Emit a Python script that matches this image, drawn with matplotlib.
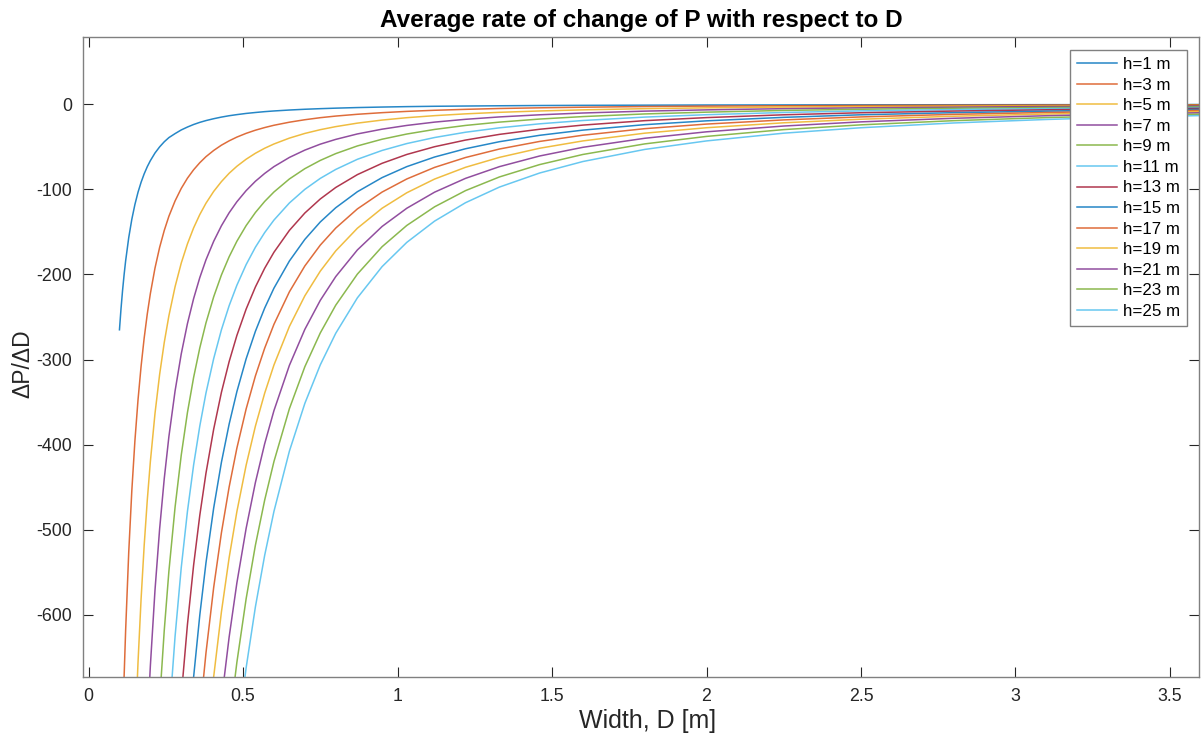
import numpy as np
import matplotlib.pyplot as plt
from matplotlib.ticker import FuncFormatter

plt.rcParams['font.family'] = ['Liberation Sans', 'DejaVu Sans']
plt.rcParams['axes.unicode_minus'] = False

D = [0.100, 0.105, 0.110, 0.115, 0.120, 0.130, 0.140, 0.150, 0.160, 0.170,
     0.180, 0.190, 0.200, 0.215, 0.230, 0.245, 0.260, 0.280, 0.300, 0.320,
     0.340, 0.360, 0.380, 0.405, 0.430, 0.455, 0.480, 0.510, 0.540, 0.570,
     0.600, 0.650, 0.700, 0.750, 0.800, 0.870, 0.950, 1.030, 1.120, 1.220,
     1.330, 1.460, 1.600, 1.800, 2.000, 2.250, 2.500, 2.800, 3.100, 3.350,
     3.600]

heights = [1, 3, 5, 7, 9, 11, 13, 15, 17, 19, 21, 23, 25]

# each list lines up with the last len(list) widths of D
h1 = [-265.0, -240.4, -219.0, -200.4, -184.0, -156.8, -135.2, -117.8, -103.5, -91.7,
      -81.8, -73.4, -66.3, -57.3, -50.1, -44.1, -39.2, -34.5, -30.2, -26.8,
      -23.8, -21.3, -19.2, -17.0, -15.1, -13.5, -12.2, -10.8, -9.7, -8.7,
      -7.9, -6.8, -5.9, -5.2, -4.6, -3.9, -3.3, -2.8, -2.4, -2.1,
      -1.8, -1.5, -1.3, -1.1, -0.9, -0.8, -0.7, -0.6, -0.5, -0.5,
      -0.4]
h3 = [-735.5, -672.9, -618.0, -526.6, -454.1, -395.5, -347.6, -307.9, -274.7, -246.5,
      -222.5, -192.5, -168.2, -148.3, -131.6, -113.6, -98.9, -86.9, -77.0, -68.7,
      -61.6, -54.3, -48.1, -43.0, -38.6, -34.2, -30.5, -27.4, -24.7, -21.1,
      -18.2, -15.8, -13.9, -11.8, -9.9, -8.4, -7.1, -6.0, -5.0, -4.2,
      -3.5, -2.7, -2.2, -1.8, -1.4, -1.1, -0.9, -0.8, -0.7]
h5 = [-746.6, -656.2, -581.3, -518.4, -465.4, -420.0, -363.4, -317.5, -279.9, -248.5,
      -214.4, -186.6, -164.1, -145.3, -129.6, -116.3, -102.4, -90.9, -81.1, -72.9,
      -64.6, -57.6, -51.7, -46.7, -39.8, -34.3, -29.9, -26.3, -22.2, -18.6,
      -15.8, -13.4, -11.3, -9.5, -7.9, -6.6, -5.2, -4.2, -3.3, -2.7,
      -2.1, -1.7, -1.5, -1.3]
h7 = [-731.3, -660.0, -571.0, -499.0, -439.8, -390.5, -336.9, -293.3, -257.8, -228.4,
      -203.7, -182.8, -161.0, -142.8, -127.5, -114.6, -101.5, -90.5, -81.3, -73.3,
      -62.5, -53.9, -46.9, -41.3, -34.9, -29.3, -24.9, -21.0, -17.7, -14.9,
      -12.4, -10.3, -8.1, -6.6, -5.2, -4.2, -3.4, -2.7, -2.4, -2.0]
h9 = [-701.2, -618.1, -548.7, -473.4, -412.2, -362.3, -321.0, -286.3, -256.9, -226.2,
      -200.6, -179.2, -161.0, -142.6, -127.2, -114.2, -103.1, -87.8, -75.7, -66.0,
      -58.0, -49.0, -41.1, -35.0, -29.6, -24.9, -21.0, -17.4, -14.5, -11.4,
      -9.3, -7.3, -5.9, -4.7, -3.9, -3.3, -2.9]
h11 = [-724.7, -625.2, -544.4, -478.5, -423.9, -378.1, -339.3, -298.8, -265.0, -236.7,
       -212.7, -188.4, -168.0, -150.8, -136.1, -116.0, -100.0, -87.1, -76.6, -64.7,
       -54.3, -46.2, -39.1, -32.9, -27.7, -23.0, -19.1, -15.1, -12.3, -9.7,
       -7.8, -6.3, -5.1, -4.4, -3.8]
h13 = [-695.5, -611.4, -541.6, -483.0, -433.5, -381.7, -338.5, -302.4, -271.7, -240.7,
       -214.7, -192.7, -173.9, -148.2, -127.8, -111.3, -97.8, -82.7, -69.4, -59.0,
       -49.9, -42.1, -35.4, -29.4, -24.5, -19.3, -15.7, -12.4, -10.0, -8.0,
       -6.5, -5.6, -4.8]
h15 = [-759.8, -673.0, -600.3, -538.8, -474.3, -420.7, -375.8, -337.7, -299.1, -266.8,
       -239.5, -216.1, -184.2, -158.8, -138.3, -121.6, -102.8, -86.2, -73.3, -62.0,
       -52.3, -44.0, -36.5, -30.4, -24.0, -19.5, -15.4, -12.4, -9.9, -8.1,
       -6.9, -6.0]
h17 = [-718.4, -644.7, -567.6, -503.5, -449.7, -404.1, -358.0, -319.2, -286.6, -258.6,
       -220.4, -190.0, -165.5, -145.5, -123.0, -103.2, -87.8, -74.2, -62.6, -52.6,
       -43.7, -36.4, -28.7, -23.3, -18.4, -14.9, -11.9, -9.7, -8.3, -7.2]
h19 = [-763.8, -672.5, -596.5, -532.7, -478.7, -424.1, -378.2, -339.5, -306.4, -261.1,
       -225.1, -196.1, -172.3, -145.7, -122.2, -104.0, -87.9, -74.1, -62.4, -51.7,
       -43.1, -34.0, -27.6, -21.8, -17.6, -14.1, -11.5, -9.8, -8.5]
h21 = [-700.9, -626.0, -562.5, -498.3, -444.4, -398.9, -360.0, -306.8, -264.5, -230.4,
       -202.5, -171.2, -143.6, -122.2, -103.3, -87.1, -73.3, -60.8, -50.6, -40.0,
       -32.4, -25.6, -20.7, -16.5, -13.5, -11.5, -10.0]
h23 = [-729.8, -655.8, -581.0, -518.1, -465.1, -419.8, -357.7, -308.4, -268.7, -236.1,
       -199.6, -167.4, -142.4, -120.5, -101.5, -85.4, -70.9, -59.0, -46.6, -37.8,
       -29.8, -24.2, -19.3, -15.7, -13.5, -11.7]
h25 = [-747.4, -662.1, -590.5, -530.0, -478.4, -407.6, -351.5, -306.2, -269.1, -227.5,
       -190.8, -162.3, -137.3, -115.7, -97.3, -80.8, -67.3, -53.1, -43.1, -34.0,
       -27.6, -22.0, -17.9, -15.3, -13.3]

series = [h1, h3, h5, h7, h9, h11, h13, h15, h17, h19, h21, h23, h25]

colors = ['#0072BD', '#D95319', '#EDB120', '#7E2F8E', '#77AC30', '#4DBEEE',
          '#A2142F']

fig = plt.figure(figsize=(12.01, 7.38), dpi=100)
ax = fig.add_axes([83/1201, 61.3/738, 1116/1201, 639.7/738])

for i, v in enumerate(series):
    ax.plot(D[-len(v):], v, color=colors[i % 7], lw=1.1, alpha=0.85,
            label='h=%d m' % heights[i])

ax.set_xlim(-0.018, 3.594)
ax.set_ylim(-672.6, 79)
ax.set_xticks(np.arange(0, 3.51, 0.5))
ax.set_yticks(np.arange(-600, 1, 100))
ax.xaxis.set_major_formatter(FuncFormatter(lambda v, p: ('%g' % v)))

ax.tick_params(direction='in', length=7, width=0.8, colors='#262626',
               labelsize=12.8, top=True, right=True, pad=8)
for s in ax.spines.values():
    s.set_color('#808080')
    s.set_linewidth(1.0)

ax.set_xlabel('Width, D [m]', fontsize=18, color='#262626', labelpad=3)
ax.xaxis.label.set_x(0.506)
ax.set_ylabel('ΔP/ΔD', fontsize=16.5, color='#262626', labelpad=1)
ax.yaxis.label.set_y(0.49)
ax.set_title('Average rate of change of P with respect to D', fontsize=17.5,
             fontweight='bold', pad=7)

leg = ax.legend(loc='upper right', bbox_to_anchor=(0.9895, 0.98),
                borderaxespad=0, fontsize=12.2, handlelength=2.35,
                handletextpad=0.35, labelspacing=0.33, borderpad=0.42,
                fancybox=False, framealpha=1)
leg.get_frame().set_edgecolor('#808080')
leg.get_frame().set_linewidth(1.0)

fig.savefig('out.png', dpi=100)
